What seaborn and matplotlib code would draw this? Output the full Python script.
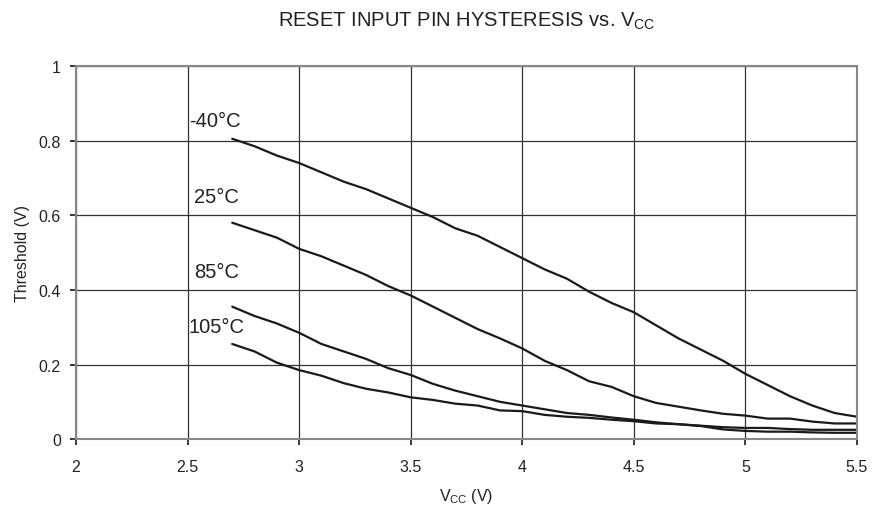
import pandas as pd
import numpy as np
import matplotlib
matplotlib.use("Agg")
import matplotlib.pyplot as plt
import seaborn as sns

# supply voltage points (V)
vcc = [2.7, 2.8, 2.9, 3.0, 3.1, 3.2, 3.3, 3.4, 3.5, 3.6, 3.7, 3.8, 3.9, 4.0, 4.1,
       4.2, 4.3, 4.4, 4.5, 4.6, 4.7, 4.8, 4.9, 5.0, 5.1, 5.2, 5.3, 5.4, 5.5]

# hysteresis threshold (V) per temperature
t_m40 = [0.805, 0.785, 0.76, 0.74, 0.715, 0.69, 0.67, 0.645, 0.62, 0.595, 0.565, 0.545,
         0.515, 0.485, 0.455, 0.43, 0.395, 0.365, 0.34, 0.305, 0.27, 0.24, 0.21, 0.175,
         0.145, 0.115, 0.09, 0.07, 0.06]
t_25 = [0.58, 0.56, 0.54, 0.51, 0.49, 0.465, 0.44, 0.41, 0.385, 0.355, 0.325, 0.295,
        0.27, 0.243, 0.21, 0.185, 0.155, 0.14, 0.115, 0.097, 0.087, 0.077, 0.068, 0.063,
        0.055, 0.055, 0.047, 0.042, 0.042]
t_85 = [0.355, 0.33, 0.31, 0.285, 0.255, 0.235, 0.215, 0.19, 0.172, 0.148, 0.13, 0.115,
        0.1, 0.09, 0.08, 0.07, 0.065, 0.058, 0.052, 0.045, 0.04, 0.036, 0.032, 0.03,
        0.03, 0.027, 0.025, 0.025, 0.025]
t_105 = [0.255, 0.235, 0.205, 0.185, 0.17, 0.15, 0.135, 0.125, 0.112, 0.105, 0.095, 0.09,
         0.077, 0.075, 0.065, 0.06, 0.057, 0.052, 0.048, 0.042, 0.04, 0.035, 0.026, 0.022,
         0.02, 0.02, 0.018, 0.017, 0.017]

labels = ["-40°C", "25°C", "85°C", "105°C"]
label_pos = [(2.505, 0.853), (2.53, 0.649), (2.53, 0.45), (2.505, 0.303)]

df = pd.DataFrame({
    "vcc": vcc * 4,
    "thr": t_m40 + t_25 + t_85 + t_105,
    "temp": np.repeat(labels, len(vcc)),
})

sns.set_theme(style="white")
plt.rcParams["font.family"] = ["Liberation Sans", "DejaVu Sans"]

fig = plt.figure(figsize=(8.74, 5.10), dpi=100)
ax = fig.add_axes([0.087, 0.137, 0.8935, 0.7316])

sns.lineplot(data=df, x="vcc", y="thr", hue="temp", palette=["#1a1a1a"] * 4,
             linewidth=1.6, legend=False, ax=ax, sort=True)

for lab, (x, y) in zip(labels, label_pos):
    ax.text(x, y, lab, fontsize=14.5, color="#222222", va="center", ha="left")

ax.set_xlim(2, 5.5)
ax.set_ylim(0, 1)
ax.set_xticks(np.arange(2, 5.51, 0.5))
ax.set_xticklabels(["2", "2.5", "3", "3.5", "4", "4.5", "5", "5.5"])
ax.set_yticks([0, 0.2, 0.4, 0.6, 0.8, 1])
ax.set_yticklabels(["0", "0.2", "0.4", "0.6", "0.8", "1"])
ax.grid(True, color="#333333", linewidth=0.9)
for s in ax.spines.values():
    s.set_color("#888888")
    s.set_linewidth(1.5)
ax.tick_params(axis="both", labelsize=11.5, colors="#222222", length=4, direction="out",
               left=True, bottom=True)
ax.tick_params(axis="x", pad=10)
ax.tick_params(axis="y", pad=7)
ax.set_xlabel(r"V$_{\mathregular{CC}}$ (V)", fontsize=11.5, color="#222222", labelpad=9)
ax.set_ylabel("Threshold (V)", fontsize=11.5, color="#222222", labelpad=6)
ax.set_title(r"RESET INPUT PIN HYSTERESIS vs. V$_{\mathregular{CC}}$", fontsize=14.5,
             color="#222222", pad=29)

fig.savefig("out.png", dpi=100)
